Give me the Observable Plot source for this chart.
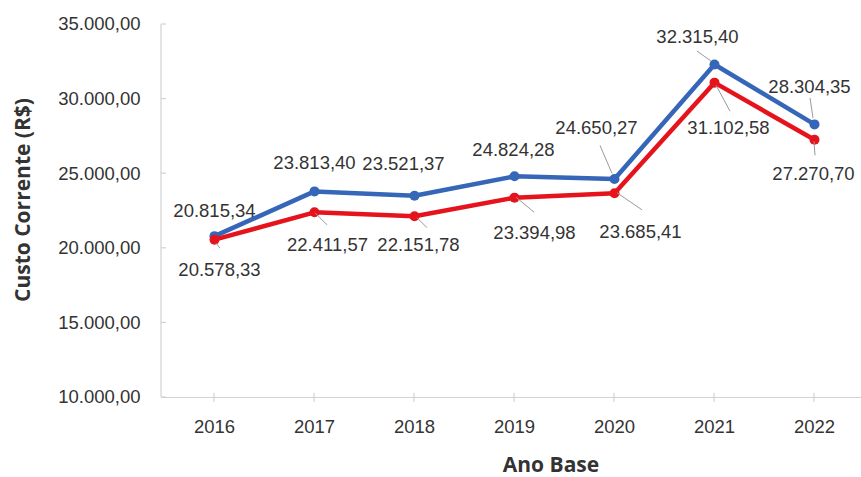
<!DOCTYPE html>
<html><head><meta charset="utf-8">
<script src="https://cdn.jsdelivr.net/npm/d3@7"></script>
<script src="https://cdn.jsdelivr.net/npm/@observablehq/plot@0.6"></script>
<style>
body{margin:0;background:#fff;}
#chart svg{display:block;}
</style></head><body><div id="chart"></div>
<script>
// ---- data ----
const years = ["2016", "2017", "2018", "2019", "2020", "2021", "2022"];
const serieAzul = [20815.34, 23813.40, 23521.37, 24824.28, 24650.27, 32315.40, 28304.35];
const serieVermelha = [20578.33, 22411.57, 22151.78, 23394.98, 23685.41, 31102.58, 27270.70];
const yTicks = [10000, 15000, 20000, 25000, 30000, 35000];
const yTitle = "Custo Corrente (R$)";
const xTitle = "Ano Base";

// ---- label layout (pixel offsets from each point) ----
const blueLabelOffsets = [[0,-25],[0,-28],[-11,-32],[-1,-26],[-18,-51],[-17,-27],[-5,-37]];
const redLabelOffsets  = [[5,30],[13,33],[4,29],[20,35],[26,39],[14,45],[-1,34]];
const blueLeaders = {4:[-14,-33,-2,-5], 5:[-17,-13,-3,-3], 6:[-4,-26,-1,-6]};
const redLeaders  = {0:[2,4,6,9], 1:[1,1,13,13], 2:[3,2,13,12], 3:[2,0,20,15], 4:[3,0,28,17], 5:[2,3,16,29], 6:[0,2,1,16]};

const BLUE = "#3566b8", RED = "#e5141c", TEXT = "#333", AXIS = "#d2d2d2", LEADER = "#9a9a9a";
const FS = 18.5;

const br = d3.formatLocale({decimal: ",", thousands: ".", grouping: [3], currency: ["R$", ""]});
const fmt = br.format(",.2f");

const blueRows = years.map((year, i) => ({year, value: serieAzul[i]}));
const redRows = years.map((year, i) => ({year, value: serieVermelha[i]}));

function decorations(index, scales, values, dimensions) {
  const {marginLeft, height, marginBottom} = dimensions;
  const g = d3.create("svg:g");
  const yb = height - marginBottom;
  g.append("line").attr("x1", marginLeft).attr("x2", marginLeft)
    .attr("y1", scales.y(yTicks[yTicks.length - 1])).attr("y2", yb)
    .attr("stroke", AXIS).attr("stroke-width", 1.2);
  for (const t of yTicks) {
    g.append("line").attr("x1", marginLeft).attr("x2", marginLeft + 5)
      .attr("y1", scales.y(t)).attr("y2", scales.y(t))
      .attr("stroke", AXIS).attr("stroke-width", 1.2);
  }
  for (const yr of years) {
    g.append("line").attr("x1", scales.x(yr)).attr("x2", scales.x(yr))
      .attr("y1", yb - 4).attr("y2", yb + 5)
      .attr("stroke", AXIS).attr("stroke-width", 1.2);
  }
  return g.node();
}

function leaders(index, scales) {
  const g = d3.create("svg:g").attr("stroke", LEADER).attr("stroke-width", 1);
  const add = (rows, table) => {
    for (const k of Object.keys(table)) {
      const d = rows[+k], o = table[k];
      const px = scales.x(d.year), py = scales.y(d.value);
      g.append("line").attr("x1", px + o[0]).attr("y1", py + o[1])
        .attr("x2", px + o[2]).attr("y2", py + o[3]);
    }
  };
  add(blueRows, blueLeaders);
  add(redRows, redLeaders);
  return g.node();
}

function titles() {
  const g = d3.create("svg:g")
    .attr("font-family", "'Open Sans', 'Noto Sans', sans-serif")
    .attr("font-weight", "bold").attr("font-size", 21).attr("fill", TEXT);
  g.append("text").attr("transform", "translate(22,200) rotate(-90)")
    .attr("text-anchor", "middle").attr("dominant-baseline", "central").text(yTitle);
  g.append("text").attr("x", 551).attr("y", 464)
    .attr("text-anchor", "middle").attr("dominant-baseline", "central").text(xTitle);
  return g.node();
}

const labelMarks = (rows, offsets) => rows.map((d, i) => Plot.text([d], {
  x: "year", y: "value", text: r => fmt(r.value),
  dx: offsets[i][0], dy: offsets[i][1],
  fontSize: FS, fill: TEXT, textAnchor: "middle", lineAnchor: "middle"
}));

const chart = Plot.plot({
  width: 861, height: 477,
  marginTop: 24, marginBottom: 80, marginLeft: 161, marginRight: 0,
  style: {fontFamily: "'Liberation Sans', Arial, sans-serif", fontSize: FS + "px", color: TEXT, background: "#fff"},
  x: {type: "point", domain: years, range: [211, 816], padding: 0, tickSize: 0, tickPadding: 22, label: null},
  y: {domain: [10000, 35000], ticks: yTicks, tickFormat: fmt, tickSize: 0, tickPadding: 21, label: null},
  marks: [
    Plot.ruleY([10000], {stroke: AXIS, strokeWidth: 1.2}),
    decorations,
    Plot.line(blueRows, {x: "year", y: "value", stroke: BLUE, strokeWidth: 4.5}),
    Plot.dot(blueRows, {x: "year", y: "value", fill: BLUE, r: 5}),
    Plot.line(redRows, {x: "year", y: "value", stroke: RED, strokeWidth: 4.5}),
    Plot.dot(redRows, {x: "year", y: "value", fill: RED, r: 5}),
    leaders,
    ...labelMarks(blueRows, blueLabelOffsets),
    ...labelMarks(redRows, redLabelOffsets),
    titles
  ]
});
document.getElementById("chart").appendChild(chart);
</script></body></html>
